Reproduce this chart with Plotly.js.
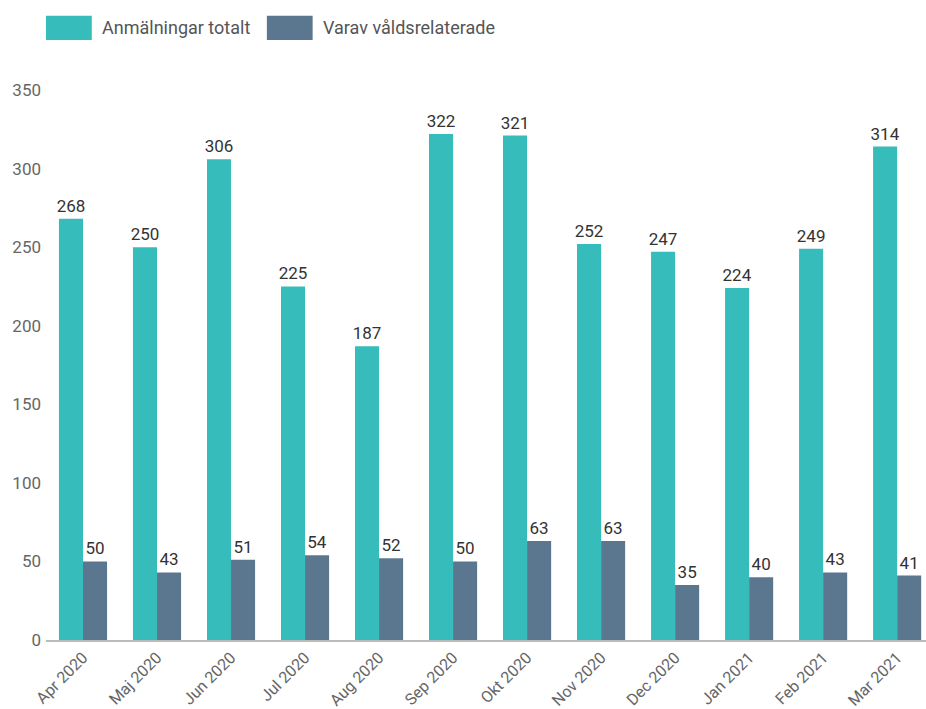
<!DOCTYPE html>
<html><head><meta charset="utf-8">
<script src="https://cdn.plot.ly/plotly-3.0.1.min.js"></script>
<style>html,body{margin:0;padding:0;background:#fff}#chart{width:926px;height:709px}</style>
</head><body><div id="chart"></div>
<script>
const months = ["Apr 2020","Maj 2020","Jun 2020","Jul 2020","Aug 2020","Sep 2020","Okt 2020","Nov 2020","Dec 2020","Jan 2021","Feb 2021","Mar 2021"];
const totalt = [268,250,306,225,187,322,321,252,247,224,249,314];
const vald = [50,43,51,54,52,50,63,63,35,40,43,41];
const seriesNames = ["Anmälningar totalt","Varav våldsrelaterade"];
const colors = ["#36bcba","#5b778f"];
const yTicks = [0,50,100,150,200,250,300,350];

const font = {family:"Roboto, sans-serif"};
const traces = [totalt, vald].map((v,i)=>({
  type:"bar", x:months, y:v, name:seriesNames[i],
  marker:{color:colors[i], line:{width:0}},
  text:v.map(String), textposition:"outside", constraintext:"none",
  textfont:{family:"Roboto, sans-serif", size:17, color:"#333"},
  cliponaxis:false, showlegend:false, hoverinfo:"x+y"
}));

const shapes = [], annotations = [];
const legX = [0.0, 0.251];
seriesNames.forEach((n,i)=>{
  shapes.push({type:"rect", xref:"paper", yref:"paper", x0:legX[i], x1:legX[i]+0.052, y0:1.091, y1:1.135,
    fillcolor:colors[i], line:{width:0}});
  annotations.push({xref:"paper", yref:"paper", x:legX[i]+0.061, y:1.113, xanchor:"left", yanchor:"middle",
    text:n, showarrow:false, font:{family:"Roboto, sans-serif", size:18, color:"#555"}});
});

const layout = {
  width:926, height:709,
  margin:{l:46, r:0, t:90, b:69},
  paper_bgcolor:"#fff", plot_bgcolor:"#fff",
  font:font,
  barmode:"group", bargap:0.35, bargroupgap:0,
  xaxis:{range:[-0.5, 11.39], tickangle:-45, showline:true, linecolor:"#bbb", linewidth:2,
    ticks:"", showgrid:false, zeroline:false, tickfont:{family:"Roboto, sans-serif", size:16, color:"#666"}},
  yaxis:{range:[0,350], tickvals:yTicks, showgrid:false, zeroline:false, showline:false,
    ticks:"", ticklabelstandoff:4, tickfont:{family:"Roboto, sans-serif", size:17, color:"#666"}},
  shapes:shapes, annotations:annotations
};
Plotly.newPlot("chart", traces, layout, {displayModeBar:false, staticPlot:true});
</script></body></html>
